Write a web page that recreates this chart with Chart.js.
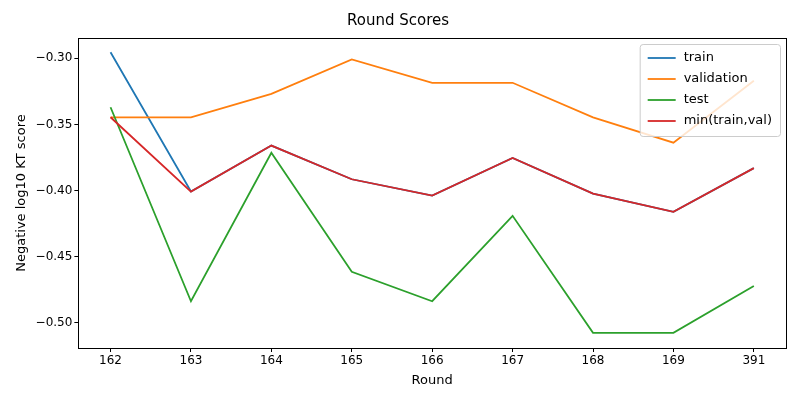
<!DOCTYPE html>
<html>
<head>
<script src="https://cdn.jsdelivr.net/npm/chart.js@4"></script>
<style>
body{margin:0;background:#fff;}
#wrap{width:800px;height:400px;}
</style>
</head>
<body>
<div id="wrap"><canvas id="dataChart" width="800" height="400"></canvas></div>
<script>
const rounds = ["162","163","164","165","166","167","168","169","391"];
const train = [-0.2954,-0.4008,-0.366,-0.3915,-0.4038,-0.3754,-0.4023,-0.4162,-0.3831];
const validation = [-0.3446,-0.3446,-0.3269,-0.3008,-0.3185,-0.3185,-0.3446,-0.3638,-0.317];
const test = [-0.337,-0.4838,-0.3715,-0.4615,-0.4838,-0.4192,-0.5077,-0.5077,-0.4723];
const minTrainVal = train.map((v,i)=>Math.min(v,validation[i]));
const yTicks = [-0.30,-0.35,-0.40,-0.45,-0.50];

function series(label,values,color,order){
    return {
        label:label,
        data:values.map((v,i)=>({x:i,y:v})),
        borderColor:color,
        backgroundColor:color,
        borderWidth:1.8,
        pointRadius:0,
        tension:0,
        fill:false,
        order:order
    };
}

// frame around the plot area plus a matplotlib-like legend box
const boxLegend = {
    id:"boxLegend",
    afterDraw(chart){
        const ctx = chart.ctx;
        const area = chart.chartArea;
        const sets = chart.data.datasets;
        ctx.save();
        ctx.strokeStyle = "#000";
        ctx.lineWidth = 1;
        ctx.strokeRect(Math.round(area.left)+0.5,Math.round(area.top)+0.5,
            Math.round(area.right-area.left),Math.round(area.bottom-area.top));
        ctx.font = "13px 'DejaVu Sans'";
        let w = 0;
        for(let ds of sets){ w = Math.max(w, ctx.measureText(ds.label).width); }
        const boxW = w + 52, rowH = 21, boxH = sets.length*rowH + 8;
        const x0 = area.right - boxW - 6, y0 = area.top + 6;
        ctx.fillStyle = "rgba(255,255,255,0.8)";
        ctx.strokeStyle = "#cccccc";
        ctx.beginPath();
        ctx.roundRect(x0+0.5,y0+0.5,boxW,boxH,3);
        ctx.fill();
        ctx.stroke();
        sets.forEach((ds,i)=>{
            const cy = y0 + 14 + i*rowH;
            ctx.strokeStyle = ds.borderColor;
            ctx.lineWidth = 1.8;
            ctx.beginPath();
            ctx.moveTo(x0+8,cy);
            ctx.lineTo(x0+36,cy);
            ctx.stroke();
            ctx.fillStyle = "#000";
            ctx.textBaseline = "middle";
            ctx.fillText(ds.label,x0+44,cy);
        });
        ctx.restore();
    }
};

const axisGrid = {display:true,drawOnChartArea:false,drawTicks:true,tickLength:4,color:"#000"};

let ctx = document.getElementById("dataChart").getContext("2d");
new Chart(ctx,{
    type:"line",
    data:{
        datasets:[
            series("train",train,"#1f77b4",4),
            series("validation",validation,"#ff7f0e",3),
            series("test",test,"#2ca02c",2),
            series("min(train,val)",minTrainVal,"#d62728",1)
        ]
    },
    options:{
        responsive:false,
        animation:false,
        layout:{padding:{left:10,right:14,top:0,bottom:8}},
        plugins:{
            legend:{display:false},
            tooltip:{enabled:false},
            title:{display:true,text:"Round Scores",color:"#000",
                font:{size:15,family:"DejaVu Sans",weight:"normal"},padding:{top:12,bottom:8}}
        },
        scales:{
            x:{
                type:"linear",min:-0.4,max:8.4,
                afterBuildTicks(axis){ axis.ticks = rounds.map((r,i)=>({value:i})); },
                ticks:{callback:(v)=>rounds[v],color:"#000",font:{size:12,family:"DejaVu Sans"},maxRotation:0,padding:2},
                grid:axisGrid,
                border:{color:"#000"},
                title:{display:true,text:"Round",color:"#000",font:{size:13,family:"DejaVu Sans"},padding:{top:2}}
            },
            y:{
                min:-0.5192,max:-0.2846,
                afterBuildTicks(axis){ axis.ticks = yTicks.map(v=>({value:v})); },
                ticks:{callback:(v)=>"\u2212"+Math.abs(v).toFixed(2),color:"#000",font:{size:12,family:"DejaVu Sans"},padding:2},
                grid:axisGrid,
                border:{color:"#000"},
                title:{display:true,text:"Negative log10 KT score",color:"#000",font:{size:13,family:"DejaVu Sans"}}
            }
        }
    },
    plugins:[boxLegend]
});
</script>
</body>
</html>
